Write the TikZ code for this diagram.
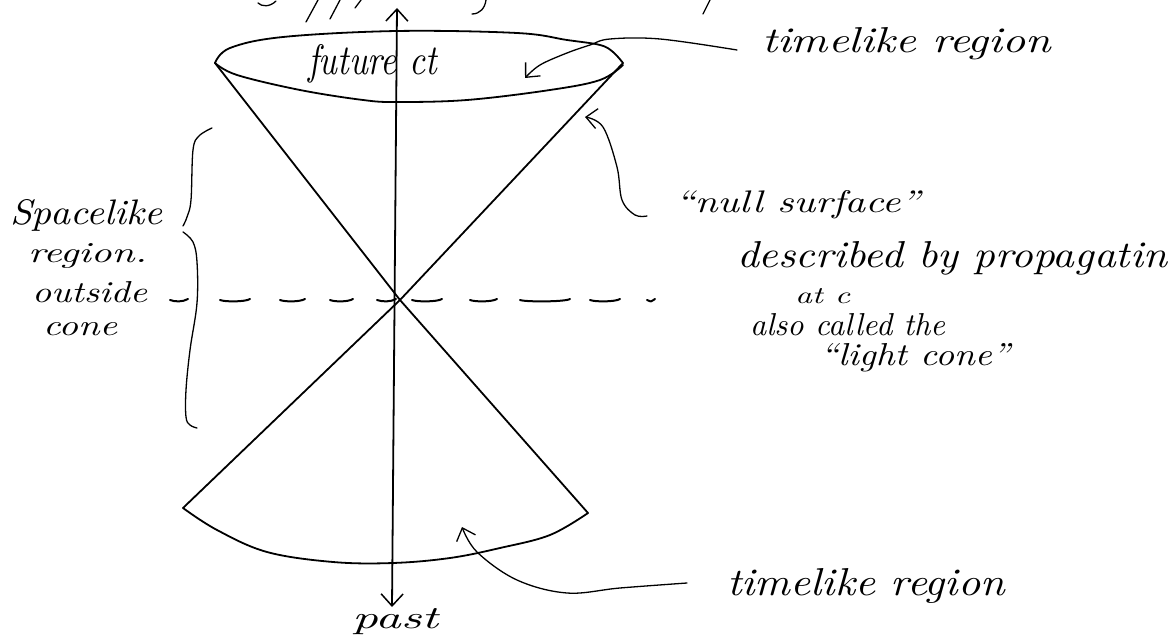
\documentclass[tikz,border=0pt]{standalone}
\usepackage{graphicx}
\usetikzlibrary{arrows.meta}
\newcommand{\hw}[3]{\resizebox{#1pt}{#2pt}{\itshape #3}}
\begin{document}
\begin{tikzpicture}[x=1pt,y=-1pt,line cap=round,line join=round,
  ink/.style={line width=1.8pt},
  thinink/.style={line width=1.3pt},
  lbl/.style={anchor=base west,inner sep=0pt,outer sep=0pt},
  barb/.style={-{Straight Barb[length=11pt,width=20pt,line width=1.3pt]}},
  dsh/.style={line width=2pt}]
\fill[white] (0,0) rectangle (1171,639);
\useasboundingbox (0,0) rectangle (1171,639);

% key points
\coordinate (apex) at (400,300);
\coordinate (tl) at (215,63);
\coordinate (tr) at (623,63);
\coordinate (bl) at (183,508);
\coordinate (br) at (588,513);
\coordinate (axtop) at (397,8);
\coordinate (axbot) at (392,607);

% cut-off strokes at the top edge
\draw[thinink] (258,3) .. controls (262,7) and (270,7) .. (276,1);
\draw[thinink] (306,22) -- (318,0);
\draw[thinink] (330,19) -- (340,0);
\draw[thinink] (355,8) -- (361,0);
\draw[thinink] (472,14) .. controls (480,14) and (485,8) .. (486,0);
\draw[thinink] (703,14) -- (710,0);

% upper rim (lens)
\draw[ink] plot[smooth,tension=0.6] coordinates {(215,63) (230,48) (283,37) (397,31) (517,33) (567,40) (600,45) (613,52) (623,63)};
\draw[ink] plot[smooth,tension=0.6] coordinates {(215,63) (237,75) (300,90) (363,100) (397,102) (467,100) (550,90) (600,80) (623,65)};

% cone lines
\draw[ink] (tl) -- (apex);
\draw[ink] (tr) -- (apex);
\draw[ink] (apex) -- (bl);
\draw[ink] (apex) -- (br);

% lower rim
\draw[ink] plot[smooth,tension=0.6] coordinates {(183,508) (217,530) (267,552) (333,562) (393,563) (450,558) (500,548) (550,535) (588,513)};

% time axis
\draw[ink,{Straight Barb[length=12pt,width=22pt,line width=1.5pt]}-{Straight Barb[length=12pt,width=22pt,line width=1.5pt]}] (axbot) -- (axtop);

% dashed horizontal line (hand dashes)
\foreach \a/\b in {170/188,220/250,280/305,330/353,377/396,412/442,470/497,520/570,590/620,647/655}
  \draw[dsh] (\a,300) .. controls (\a+5,302) and (\b-5,302) .. (\b,299);

% brace
\draw[thinink] plot[smooth,tension=0.6] coordinates {(212,128) (199,136) (193,150) (191,200) (187,217) (183,226)};
\draw[thinink] plot[smooth,tension=0.6] coordinates {(183,232) (193,242) (197,262) (197,303) (190,350) (186,390) (186,417) (190,425) (197,428)};

% arrows
\draw[thinink,barb] plot[smooth,tension=0.6] coordinates {(737,50) (660,39) (610,39) (590,45) (567,53) (540,65) (525,78)};
\draw[thinink,barb] plot[smooth,tension=0.6] coordinates {(647,216) (635,215) (622,200) (617,167) (603,127) (585,117)};
\draw[thinink,barb] plot[smooth,tension=0.6] coordinates {(687,583) (620,588) (567,593) (517,580) (477,552) (462,527)};

% labels
\node[lbl] (future) at (308,75) {\hw{129}{30}{future ct}};
\node[lbl] (tltop) at (762,53) {\hw{289}{25}{timelike region}};
\node[lbl] (null) at (675,213) {\hw{245}{22}{``null surface''}};
\node[lbl] (descr) at (737,268) {\hw{430}{26}{described by propagatin}};
\node[lbl] (atc) at (795,304) {\hw{55}{15}{at c}};
\node[lbl] (also) at (750,336) {\hw{195}{22}{also called the}};
\node[lbl] (light) at (820,366) {\hw{190}{22}{``light cone''}};
\node[lbl] (space) at (10,225) {\hw{152}{25}{Spacelike}};
\node[lbl] (region) at (28,263) {\hw{119}{19}{region.}};
\node[lbl] (outside) at (32,303) {\hw{115}{21}{outside}};
\node[lbl] (cone) at (43,335) {\hw{74}{13}{cone}};
\node[lbl] (past) at (352,628) {\hw{86}{20}{past}};
\node[lbl] (tlbot) at (727,595) {\hw{278}{27}{timelike region}};
\end{tikzpicture}
\end{document}
